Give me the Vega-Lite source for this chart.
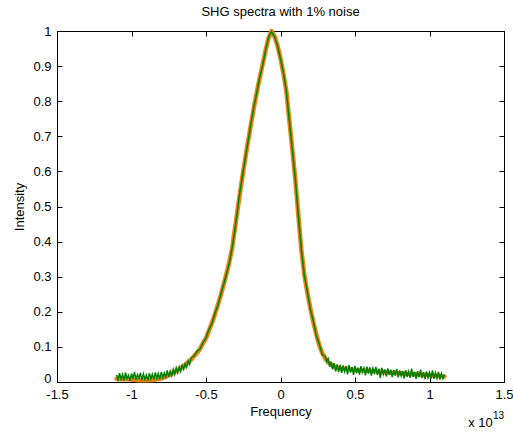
{
  "$schema": "https://vega.github.io/schema/vega-lite/v6.json",
  "width": 447,
  "height": 351,
  "autosize": {"type": "none"},
  "padding": {"left": 57, "top": 31, "right": 9, "bottom": 51},
  "background": "white",
  "title": {"text": "SHG spectra with 1% noise", "font": "Liberation Sans", "fontSize": 13, "fontWeight": "normal", "color": "#000", "offset": 6, "anchor": "middle"},
  "config": {
    "view": {"stroke": "#000", "strokeWidth": 1},
    "axis": {"domainColor": "#000", "tickColor": "#000", "labelColor": "#000", "titleColor": "#000", "labelFont": "Liberation Sans", "titleFont": "Liberation Sans", "labelFontSize": 13, "titleFontSize": 13, "titleFontWeight": "normal", "grid": false, "tickSize": -5, "labelFlush": false, "labelOverlap": false}
  },
  "datasets": {
    "orange": [
      {"f": -1.10, "i": 0.009}, {"f": -1.05, "i": 0.008}, {"f": -1.00, "i": 0.007}, {"f": -0.95, "i": 0.005}, {"f": -0.90, "i": 0.005}, {"f": -0.85, "i": 0.006}, {"f": -0.80, "i": 0.010}, {"f": -0.75, "i": 0.019}, {"f": -0.70, "i": 0.031}, {"f": -0.65, "i": 0.045}, {"f": -0.60, "i": 0.064}, {"f": -0.55, "i": 0.088}, {"f": -0.50, "i": 0.125}, {"f": -0.45, "i": 0.180}, {"f": -0.40, "i": 0.248}, {"f": -0.375, "i": 0.288}, {"f": -0.35, "i": 0.330}, {"f": -0.325, "i": 0.380}, {"f": -0.30, "i": 0.455}, {"f": -0.275, "i": 0.530}, {"f": -0.25, "i": 0.600}, {"f": -0.225, "i": 0.668}, {"f": -0.20, "i": 0.730}, {"f": -0.175, "i": 0.790}, {"f": -0.15, "i": 0.845}, {"f": -0.125, "i": 0.895}, {"f": -0.10, "i": 0.945}, {"f": -0.08, "i": 0.980}, {"f": -0.06, "i": 1.000}, {"f": -0.04, "i": 0.985}, {"f": -0.02, "i": 0.958}, {"f": 0.00, "i": 0.922}, {"f": 0.02, "i": 0.878}, {"f": 0.04, "i": 0.826}, {"f": 0.06, "i": 0.742}, {"f": 0.08, "i": 0.660}, {"f": 0.10, "i": 0.574}, {"f": 0.12, "i": 0.474}, {"f": 0.14, "i": 0.376}, {"f": 0.16, "i": 0.305}, {"f": 0.18, "i": 0.255}, {"f": 0.20, "i": 0.210}, {"f": 0.22, "i": 0.171}, {"f": 0.24, "i": 0.136}, {"f": 0.26, "i": 0.105}, {"f": 0.28, "i": 0.082}, {"f": 0.30, "i": 0.067}, {"f": 0.32, "i": 0.056}, {"f": 0.35, "i": 0.046}, {"f": 0.40, "i": 0.039}, {"f": 0.50, "i": 0.034}, {"f": 0.60, "i": 0.031}, {"f": 0.70, "i": 0.028}, {"f": 0.80, "i": 0.025}, {"f": 0.90, "i": 0.022}, {"f": 1.00, "i": 0.019}, {"f": 1.10, "i": 0.016}
    ],
    "green": [
      {"f": -1.10, "i": 0.020}, {"f": -1.09, "i": 0.006}, {"f": -1.08, "i": 0.025}, {"f": -1.07, "i": 0.008}, {"f": -1.06, "i": 0.022}, {"f": -1.05, "i": 0.004}, {"f": -1.04, "i": 0.027}, {"f": -1.03, "i": 0.010}, {"f": -1.02, "i": 0.019}, {"f": -1.01, "i": 0.003}, {"f": -1.00, "i": 0.024}, {"f": -0.99, "i": 0.009}, {"f": -0.98, "i": 0.028}, {"f": -0.97, "i": 0.006}, {"f": -0.96, "i": 0.021}, {"f": -0.95, "i": 0.011}, {"f": -0.94, "i": 0.026}, {"f": -0.93, "i": 0.005}, {"f": -0.92, "i": 0.023}, {"f": -0.91, "i": 0.008}, {"f": -0.90, "i": 0.020}, {"f": -0.89, "i": 0.004}, {"f": -0.88, "i": 0.025}, {"f": -0.87, "i": 0.009}, {"f": -0.86, "i": 0.022}, {"f": -0.85, "i": 0.007}, {"f": -0.84, "i": 0.027}, {"f": -0.83, "i": 0.010}, {"f": -0.82, "i": 0.024}, {"f": -0.81, "i": 0.008}, {"f": -0.80, "i": 0.029}, {"f": -0.79, "i": 0.012}, {"f": -0.78, "i": 0.026}, {"f": -0.77, "i": 0.014}, {"f": -0.76, "i": 0.033}, {"f": -0.75, "i": 0.015}, {"f": -0.74, "i": 0.031}, {"f": -0.73, "i": 0.018}, {"f": -0.72, "i": 0.036}, {"f": -0.71, "i": 0.022}, {"f": -0.70, "i": 0.040}, {"f": -0.69, "i": 0.026}, {"f": -0.68, "i": 0.043}, {"f": -0.67, "i": 0.030}, {"f": -0.66, "i": 0.047}, {"f": -0.65, "i": 0.036}, {"f": -0.64, "i": 0.052}, {"f": -0.63, "i": 0.042}, {"f": -0.62, "i": 0.060}, {"f": -0.61, "i": 0.050}, {"f": -0.60, "i": 0.068},
      {"f": -0.58, "i": 0.074}, {"f": -0.56, "i": 0.088}, {"f": -0.54, "i": 0.094}, {"f": -0.52, "i": 0.112}, {"f": -0.50, "i": 0.126}, {"f": -0.48, "i": 0.150}, {"f": -0.46, "i": 0.166}, {"f": -0.44, "i": 0.196}, {"f": -0.42, "i": 0.218}, {"f": -0.40, "i": 0.252}, {"f": -0.38, "i": 0.280}, {"f": -0.36, "i": 0.312}, {"f": -0.34, "i": 0.345}, {"f": -0.32, "i": 0.395}, {"f": -0.30, "i": 0.452}, {"f": -0.28, "i": 0.520}, {"f": -0.26, "i": 0.575}, {"f": -0.24, "i": 0.628}, {"f": -0.22, "i": 0.680}, {"f": -0.20, "i": 0.732}, {"f": -0.18, "i": 0.782}, {"f": -0.16, "i": 0.822}, {"f": -0.14, "i": 0.868}, {"f": -0.12, "i": 0.902}, {"f": -0.10, "i": 0.945}, {"f": -0.08, "i": 0.982}, {"f": -0.07, "i": 0.992}, {"f": -0.06, "i": 0.998}, {"f": -0.05, "i": 0.990}, {"f": -0.04, "i": 0.984}, {"f": -0.02, "i": 0.958}, {"f": 0.00, "i": 0.920}, {"f": 0.02, "i": 0.880}, {"f": 0.04, "i": 0.825}, {"f": 0.06, "i": 0.742}, {"f": 0.08, "i": 0.658}, {"f": 0.10, "i": 0.575}, {"f": 0.12, "i": 0.472}, {"f": 0.14, "i": 0.378}, {"f": 0.16, "i": 0.303}, {"f": 0.18, "i": 0.258}, {"f": 0.20, "i": 0.208}, {"f": 0.22, "i": 0.174}, {"f": 0.24, "i": 0.132}, {"f": 0.26, "i": 0.108}, {"f": 0.28, "i": 0.078}, {"f": 0.29, "i": 0.075},
      {"f": 0.30, "i": 0.074}, {"f": 0.31, "i": 0.058}, {"f": 0.32, "i": 0.066}, {"f": 0.33, "i": 0.044}, {"f": 0.34, "i": 0.058}, {"f": 0.35, "i": 0.036}, {"f": 0.36, "i": 0.054}, {"f": 0.37, "i": 0.030}, {"f": 0.38, "i": 0.050}, {"f": 0.39, "i": 0.028}, {"f": 0.40, "i": 0.049}, {"f": 0.41, "i": 0.026}, {"f": 0.42, "i": 0.047}, {"f": 0.43, "i": 0.030}, {"f": 0.44, "i": 0.045}, {"f": 0.45, "i": 0.022}, {"f": 0.46, "i": 0.048}, {"f": 0.47, "i": 0.027}, {"f": 0.48, "i": 0.043}, {"f": 0.49, "i": 0.020}, {"f": 0.50, "i": 0.046}, {"f": 0.51, "i": 0.025}, {"f": 0.52, "i": 0.041}, {"f": 0.53, "i": 0.021}, {"f": 0.54, "i": 0.045}, {"f": 0.55, "i": 0.028}, {"f": 0.56, "i": 0.040}, {"f": 0.57, "i": 0.019}, {"f": 0.58, "i": 0.044}, {"f": 0.59, "i": 0.024}, {"f": 0.60, "i": 0.042}, {"f": 0.61, "i": 0.018}, {"f": 0.62, "i": 0.039}, {"f": 0.63, "i": 0.026}, {"f": 0.64, "i": 0.043}, {"f": 0.65, "i": 0.020}, {"f": 0.66, "i": 0.038}, {"f": 0.67, "i": 0.012}, {"f": 0.68, "i": 0.040}, {"f": 0.69, "i": 0.022}, {"f": 0.70, "i": 0.036}, {"f": 0.71, "i": 0.016}, {"f": 0.72, "i": 0.039}, {"f": 0.73, "i": 0.020}, {"f": 0.74, "i": 0.035}, {"f": 0.75, "i": 0.014}, {"f": 0.76, "i": 0.034}, {"f": 0.77, "i": 0.018}, {"f": 0.78, "i": 0.037}, {"f": 0.79, "i": 0.013}, {"f": 0.80, "i": 0.033}, {"f": 0.81, "i": 0.017}, {"f": 0.82, "i": 0.031}, {"f": 0.83, "i": 0.010}, {"f": 0.84, "i": 0.034}, {"f": 0.85, "i": 0.015}, {"f": 0.86, "i": 0.030}, {"f": 0.87, "i": 0.012}, {"f": 0.88, "i": 0.038}, {"f": 0.89, "i": 0.014}, {"f": 0.90, "i": 0.029}, {"f": 0.91, "i": 0.009}, {"f": 0.92, "i": 0.031}, {"f": 0.93, "i": 0.013}, {"f": 0.94, "i": 0.035}, {"f": 0.95, "i": 0.011}, {"f": 0.96, "i": 0.028}, {"f": 0.97, "i": 0.008}, {"f": 0.98, "i": 0.030}, {"f": 0.99, "i": 0.012}, {"f": 1.00, "i": 0.027}, {"f": 1.01, "i": 0.010}, {"f": 1.02, "i": 0.033}, {"f": 1.03, "i": 0.009}, {"f": 1.04, "i": 0.026}, {"f": 1.05, "i": 0.011}, {"f": 1.06, "i": 0.029}, {"f": 1.07, "i": 0.007}, {"f": 1.08, "i": 0.024}, {"f": 1.09, "i": 0.010}, {"f": 1.10, "i": 0.021}
    ],
    "note": [
      {"f": 1.342, "i": -0.118, "t": "x 10", "s": "base"},
      {"f": 1.463, "i": -0.098, "t": "13", "s": "sup"}
    ]
  },
  "layer": [
    {
      "data": {"name": "orange"},
      "mark": {"type": "line", "color": "#ee8410", "strokeWidth": 4.5, "strokeJoin": "round", "strokeCap": "round"},
      "encoding": {
        "x": {"field": "f", "type": "quantitative", "scale": {"domain": [-1.5, 1.5], "nice": false, "zero": false},
              "axis": {"orient": "bottom", "values": [-1.5, -1, -0.5, 0, 0.5, 1, 1.5], "format": "~g", "labelExpr": "replace(datum.label, '−', '-')", "title": "Frequency", "labelPadding": 11, "titlePadding": 4}},
        "y": {"field": "i", "type": "quantitative", "scale": {"domain": [0, 1], "nice": false, "zero": false},
              "axis": {"orient": "left", "values": [0, 0.1, 0.2, 0.3, 0.4, 0.5, 0.6, 0.7, 0.8, 0.9, 1], "format": "~g", "title": "Intensity", "labelPadding": 11, "titlePadding": 6,
                       "labelOffset": {"condition": {"test": "datum.value == 0", "value": -4}, "value": 0}}}
      }
    },
    {
      "data": {"name": "green"},
      "mark": {"type": "line", "color": "#008000", "strokeWidth": 1.5},
      "encoding": {
        "x": {"field": "f", "type": "quantitative", "axis": {"orient": "top", "values": [-1.5, -1, -0.5, 0, 0.5, 1, 1.5], "labels": false, "title": null}},
        "y": {"field": "i", "type": "quantitative", "axis": {"orient": "right", "values": [0, 0.1, 0.2, 0.3, 0.4, 0.5, 0.6, 0.7, 0.8, 0.9, 1], "labels": false, "title": null}}
      }
    },
    {
      "data": {"name": "note"},
      "transform": [{"filter": "datum.s == 'base'"}],
      "mark": {"type": "text", "font": "Liberation Sans", "fontSize": 13, "color": "#000", "baseline": "middle", "align": "center"},
      "encoding": {
        "x": {"field": "f", "type": "quantitative", "axis": null},
        "y": {"field": "i", "type": "quantitative", "axis": null},
        "text": {"field": "t"}
      }
    },
    {
      "data": {"name": "note"},
      "transform": [{"filter": "datum.s == 'sup'"}],
      "mark": {"type": "text", "font": "Liberation Sans", "fontSize": 10, "color": "#000", "baseline": "middle", "align": "center"},
      "encoding": {
        "x": {"field": "f", "type": "quantitative", "axis": null},
        "y": {"field": "i", "type": "quantitative", "axis": null},
        "text": {"field": "t"}
      }
    }
  ]
}
